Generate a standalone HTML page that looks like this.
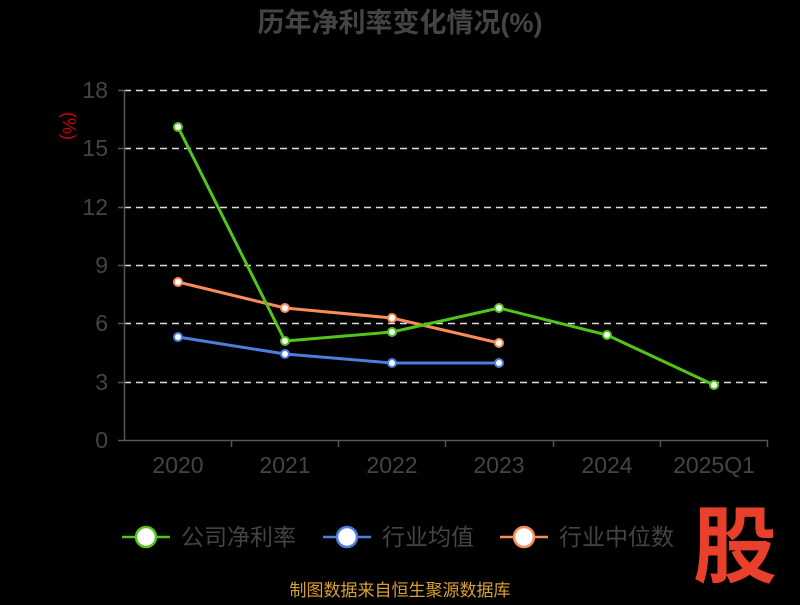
<!DOCTYPE html>
<html><head><meta charset="utf-8"><style>
body{margin:0;background:#000;width:800px;height:600px;overflow:hidden}
text{font-family:"Liberation Sans","Noto Sans CJK SC",sans-serif}
</style></head><body>
<svg width="800" height="600" xmlns="http://www.w3.org/2000/svg">
<rect width="800" height="600" fill="#000"/>
<text x="400" y="32" text-anchor="middle" font-size="27" font-weight="bold" fill="#444">历年净利率变化情况(%)</text>
<text x="63" y="126" text-anchor="middle" font-size="18" fill="#c00" transform="rotate(90 63 126)">(%)</text>
<g stroke="#ddd" stroke-width="1.5" stroke-dasharray="7,5">
<line x1="124" x2="768" y1="90.5" y2="90.5"/><line x1="124" x2="768" y1="148.5" y2="148.5"/>
<line x1="124" x2="768" y1="207.5" y2="207.5"/><line x1="124" x2="768" y1="265.5" y2="265.5"/>
<line x1="124" x2="768" y1="323.5" y2="323.5"/><line x1="124" x2="768" y1="382.5" y2="382.5"/>
</g>
<g stroke="#555" stroke-width="1.5">
<line x1="124.5" y1="90" x2="124.5" y2="441"/><line x1="124" y1="440.5" x2="768" y2="440.5"/>
<line x1="118" x2="124" y1="90.5" y2="90.5"/><line x1="118" x2="124" y1="148.5" y2="148.5"/><line x1="118" x2="124" y1="207.5" y2="207.5"/><line x1="118" x2="124" y1="265.5" y2="265.5"/><line x1="118" x2="124" y1="323.5" y2="323.5"/><line x1="118" x2="124" y1="382.5" y2="382.5"/><line x1="118" x2="124" y1="440.5" y2="440.5"/>
<line x1="231.5" x2="231.5" y1="440" y2="447"/><line x1="338.5" x2="338.5" y1="440" y2="447"/><line x1="445.5" x2="445.5" y1="440" y2="447"/><line x1="553.5" x2="553.5" y1="440" y2="447"/><line x1="660.5" x2="660.5" y1="440" y2="447"/><line x1="767.5" x2="767.5" y1="440" y2="447"/>
</g>
<g font-size="23" fill="#444" text-anchor="end">
<text x="108" y="98">18</text><text x="108" y="156">15</text><text x="108" y="215">12</text><text x="108" y="273">9</text><text x="108" y="331">6</text><text x="108" y="390">3</text><text x="108" y="448">0</text>
</g>
<g font-size="23" fill="#444" text-anchor="middle">
<text x="178" y="473">2020</text><text x="285" y="473">2021</text><text x="392" y="473">2022</text><text x="499" y="473">2023</text><text x="607" y="473">2024</text><text x="714" y="473">2025Q1</text>
</g>
<g fill="none" stroke-width="3">
<polyline stroke="#fa8c5a" points="178,282 285,308 392,318 499,343"/>
<polyline stroke="#4a7fdc" points="178,337 285,354 392,363 499,363"/>
<polyline stroke="#52c41a" points="178,127 285,341 392,332 499,308 607,335 714,385"/>
</g>
<g fill="#fff" stroke-width="2">
<g stroke="#fa8c5a"><circle cx="178" cy="282" r="4"/><circle cx="285" cy="308" r="4"/><circle cx="392" cy="318" r="4"/><circle cx="499" cy="343" r="4"/></g>
<g stroke="#4a7fdc"><circle cx="178" cy="337" r="4"/><circle cx="285" cy="354" r="4"/><circle cx="392" cy="363" r="4"/><circle cx="499" cy="363" r="4"/></g>
<g stroke="#52c41a"><circle cx="178" cy="127" r="4"/><circle cx="285" cy="341" r="4"/><circle cx="392" cy="332" r="4"/><circle cx="499" cy="308" r="4"/><circle cx="607" cy="335" r="4"/><circle cx="714" cy="385" r="4"/></g>
</g>
<g stroke-width="2.5">
<line x1="122" x2="170" y1="537" y2="537" stroke="#52c41a"/><circle cx="146" cy="537" r="10" fill="#fff" stroke="#52c41a"/>
<line x1="323" x2="371" y1="537" y2="537" stroke="#4a7fdc"/><circle cx="347" cy="537" r="10" fill="#fff" stroke="#4a7fdc"/>
<line x1="500" x2="548" y1="537" y2="537" stroke="#fa8c5a"/><circle cx="524" cy="537" r="10" fill="#fff" stroke="#fa8c5a"/>
</g>
<g font-size="23" fill="#444">
<text x="181" y="545">公司净利率</text><text x="382" y="545">行业均值</text><text x="559" y="545">行业中位数</text>
</g>
<text x="735" y="576" text-anchor="middle" font-size="84" font-weight="bold" fill="#e8402a">股</text>
<text x="400" y="596" text-anchor="middle" font-size="17" fill="#d9a030">制图数据来自恒生聚源数据库</text>
</svg>
</body></html>
